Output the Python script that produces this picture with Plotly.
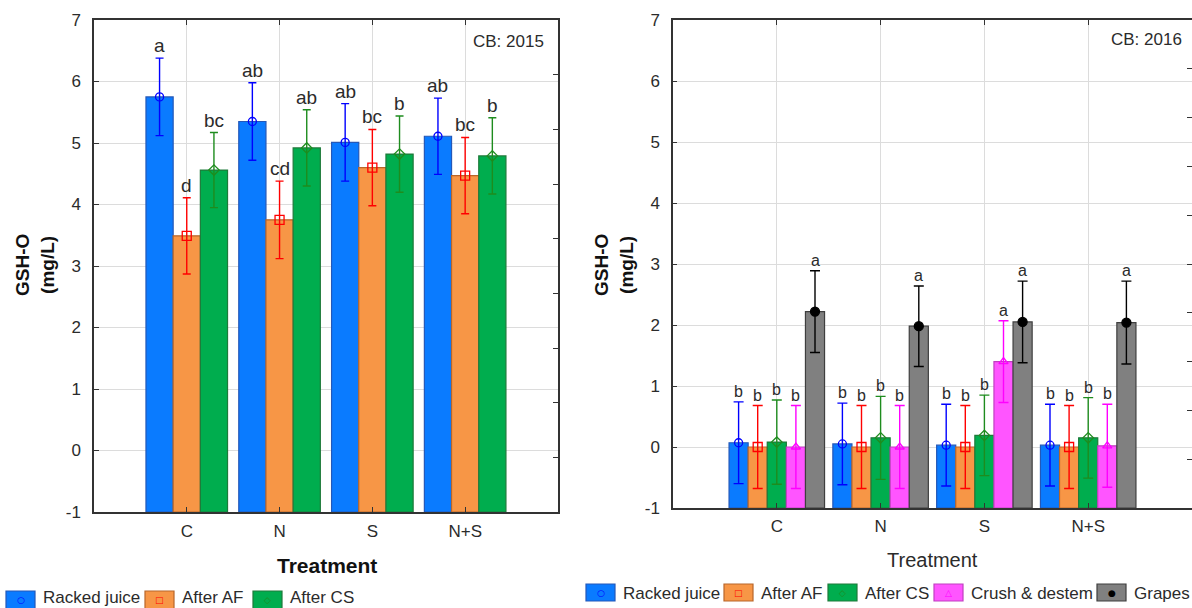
import plotly.graph_objects as go

categories = ["C", "N", "S", "N+S"]
y_ticks = [-1, 0, 1, 2, 3, 4, 5, 6, 7]

# ---- CB: 2015 ----
series_2015 = ["Racked juice", "After AF", "After CS"]
racked_2015 = [5.75, 5.35, 5.01, 5.11]
af_2015 = [3.49, 3.75, 4.60, 4.47]
cs_2015 = [4.56, 4.92, 4.82, 4.79]
racked_2015_err = [0.63, 0.63, 0.63, 0.62]
af_2015_err = [0.62, 0.63, 0.62, 0.62]
cs_2015_err = [0.61, 0.62, 0.62, 0.62]
racked_2015_letters = ["a", "ab", "ab", "ab"]
af_2015_letters = ["d", "cd", "bc", "bc"]
cs_2015_letters = ["bc", "ab", "b", "b"]

# ---- CB: 2016 ----
series_2016 = ["Racked juice", "After AF", "After CS", "Crush & destem", "Grapes"]
racked_2016 = [0.07, 0.05, 0.03, 0.03]
af_2016 = [0.0, 0.0, 0.0, 0.0]
cs_2016 = [0.08, 0.15, 0.19, 0.15]
crush_2016 = [0.0, 0.0, 1.40, 0.02]
grapes_2016 = [2.22, 1.98, 2.05, 2.04]
racked_2016_err = [0.67, 0.67, 0.67, 0.67]
af_2016_err = [0.68, 0.68, 0.68, 0.68]
cs_2016_err = [0.69, 0.68, 0.66, 0.66]
crush_2016_err = [0.68, 0.68, 0.67, 0.68]
grapes_2016_err = [0.67, 0.66, 0.67, 0.68]
racked_2016_letters = ["b", "b", "b", "b"]
af_2016_letters = ["b", "b", "b", "b"]
cs_2016_letters = ["b", "b", "b", "b"]
crush_2016_letters = ["b", "b", "a", "b"]
grapes_2016_letters = ["a", "a", "a", "a"]

FONT = "Liberation Sans, Arial, sans-serif"
TXT = "#2b2b2b"
BASE = y_ticks[0]  # bars are drawn up from the bottom of the axis

styles = {
    "Racked juice": dict(fill="#0A7BFF", line="#2458B8", err="#0000FF", sym="circle-open", msize=8, glyph="○"),
    "After AF": dict(fill="#F79646", line="#B8662A", err="#FF0000", sym="square-open", msize=9, glyph="□"),
    "After CS": dict(fill="#00AD4E", line="#1E7A3A", err="#1E8C1E", sym="diamond-open", msize=8, glyph="◇"),
    "Crush & destem": dict(fill="#FF55FF", line="#C040C0", err="#FF00FF", sym="triangle-up-open", msize=8, glyph="△"),
    "Grapes": dict(fill="#808080", line="#3F3F3F", err="#000000", sym="circle", msize=9, glyph="●"),
}

fig = go.Figure()
annotations = []
shapes = []
idx = list(range(len(categories)))


def add_panel(names, values, errs, letters, xa, ya, width, start, letter_size, cap):
    for k, (name, vals, er, lets) in enumerate(zip(names, values, errs, letters)):
        st = styles[name]
        off = start + k * width
        fig.add_trace(go.Bar(
            x=idx, y=[v - BASE for v in vals], base=BASE, name=name, xaxis=xa, yaxis=ya,
            width=width, offset=off, showlegend=False,
            marker=dict(color=st["fill"], line=dict(color=st["line"], width=1.2)),
            hoverinfo="skip"))
        xs = [i + off + width / 2 for i in idx]
        fig.add_trace(go.Scatter(
            x=xs, y=vals, mode="markers", xaxis=xa, yaxis=ya, showlegend=False,
            marker=dict(symbol=st["sym"], size=st["msize"], color=st["err"],
                        line=dict(color=st["err"], width=1.3)),
            error_y=dict(type="data", array=er, color=st["err"], thickness=1.4, width=cap),
            hoverinfo="skip"))
        for xv, v, e, t in zip(xs, vals, er, lets):
            annotations.append(dict(x=xv, y=v + e, xref=xa, yref=ya.replace("axis", ""),
                                    text=t, showarrow=False, yanchor="bottom",
                                    font=dict(family=FONT, size=letter_size, color=TXT)))


add_panel(series_2015, [racked_2015, af_2015, cs_2015],
          [racked_2015_err, af_2015_err, cs_2015_err],
          [racked_2015_letters, af_2015_letters, cs_2015_letters],
          "x", "y", 0.293, -0.44, 19, 4)
add_panel(series_2016, [racked_2016, af_2016, cs_2016, crush_2016, grapes_2016],
          [racked_2016_err, af_2016_err, cs_2016_err, crush_2016_err, grapes_2016_err],
          [racked_2016_letters, af_2016_letters, cs_2016_letters, crush_2016_letters, grapes_2016_letters],
          "x2", "y2", 0.184, -0.46, 16, 5)

# empty traces so that the right-hand tick axes get drawn
fig.add_trace(go.Scatter(x=[], y=[], xaxis="x", yaxis="y3", showlegend=False, hoverinfo="skip"))
fig.add_trace(go.Scatter(x=[], y=[], xaxis="x2", yaxis="y4", showlegend=False, hoverinfo="skip"))

H = 608.0
W = 1192.0
AX = "#333333"
GRID = "#dcdcdc"


def px(x):
    return x / W


def py(y):
    return 1 - y / H


def xaxis(domain, anchor, size, standoff):
    return dict(domain=domain, anchor=anchor, range=[-1, 4], tickvals=idx, ticktext=categories,
                showgrid=True, gridcolor=GRID, gridwidth=1, zeroline=False, automargin=False,
                showline=True, linecolor=AX, linewidth=1.5, mirror="ticks",
                ticks="inside", ticklen=5, tickcolor=AX, ticklabelstandoff=standoff,
                tickfont=dict(family=FONT, size=size, color=TXT))


def yaxis(domain, anchor, size, mirror, ticklen, standoff):
    return dict(domain=domain, anchor=anchor, range=[y_ticks[0], y_ticks[-1]],
                tickvals=y_ticks, ticktext=[str(t) for t in y_ticks], showgrid=True,
                gridcolor=GRID, gridwidth=1, zeroline=False, showline=True, linecolor=AX,
                linewidth=1.5, mirror=mirror, ticks="inside", ticklen=ticklen, tickcolor=AX,
                ticklabelstandoff=standoff, automargin=False,
                tickfont=dict(family=FONT, size=size, color=TXT))


fig.update_layout(
    width=1192, height=608, autosize=False,
    margin=dict(l=0, r=0, t=0, b=0, pad=0),
    paper_bgcolor="white", plot_bgcolor="white",
    barmode="overlay", showlegend=False,
    font=dict(family=FONT, color=TXT),
    xaxis=xaxis([px(94), px(558)], "y", 17, 3),
    yaxis=yaxis([py(512), py(20)], "x", 17, True, 5, 8),
    xaxis2=xaxis([px(673), 1.0], "y2", 17, 2),
    yaxis2=yaxis([py(508), py(20)], "x2", 17, False, 4, 8),
    yaxis3=dict(overlaying="y", anchor="x", side="right", range=[0, 9], dtick=1,
                showgrid=False, zeroline=False, showline=False, ticks="inside", ticklen=5,
                tickcolor=AX, showticklabels=False, automargin=False),
    yaxis4=dict(overlaying="y2", anchor="x2", side="right", range=[0, 10], dtick=1,
                showgrid=False, zeroline=False, showline=False, ticks="inside", ticklen=5,
                tickcolor=AX, showticklabels=False, automargin=False),
)

annotations += [
    dict(x=px(546), y=py(41), xref="paper", yref="paper", text="CB: 2015", showarrow=False,
         xanchor="right", yanchor="middle", font=dict(family=FONT, size=17, color=TXT)),
    dict(x=px(1184), y=py(39), xref="paper", yref="paper", text="CB: 2016", showarrow=False,
         xanchor="right", yanchor="middle", font=dict(family=FONT, size=17, color=TXT)),
    dict(x=px(327), y=py(565), xref="paper", yref="paper", text="<b>Treatment</b>",
         showarrow=False, xanchor="center", yanchor="middle",
         font=dict(family=FONT, size=21, color="#111111")),
    dict(x=px(932), y=py(560), xref="paper", yref="paper", text="Treatment",
         showarrow=False, xanchor="center", yanchor="middle",
         font=dict(family=FONT, size=20, color=TXT)),
    dict(x=px(35), y=py(265), xref="paper", yref="paper", text="<b>GSH-O<br>(mg/L)</b>",
         showarrow=False, textangle=-90, xanchor="center", yanchor="middle",
         font=dict(family=FONT, size=19, color="#111111")),
    dict(x=px(614), y=py(265), xref="paper", yref="paper", text="<b>GSH-O<br>(mg/L)</b>",
         showarrow=False, textangle=-90, xanchor="center", yanchor="middle",
         font=dict(family=FONT, size=19, color="#111111")),
]


# ---- legends (drawn as boxes with the series marker inside, like the original) ----
def add_legend(names, box_lefts, top, bottom, text_y, size):
    for name, x0 in zip(names, box_lefts):
        st = styles[name]
        x1 = x0 + 29
        shapes.append(dict(type="rect", xref="paper", yref="paper",
                           x0=px(x0), x1=px(x1), y0=py(bottom), y1=py(top),
                           fillcolor=st["fill"], line=dict(color=st["line"], width=1.2)))
        annotations.append(dict(x=px((x0 + x1) / 2), y=py((top + min(bottom, 608)) / 2 + 0.5),
                                xref="paper", yref="paper", text=st["glyph"], showarrow=False,
                                xanchor="center", yanchor="middle",
                                font=dict(family="DejaVu Sans", size=9, color=st["err"])))
        annotations.append(dict(x=px(x1 + 6), y=py(text_y), xref="paper", yref="paper",
                                text=name, showarrow=False, xanchor="left", yanchor="middle",
                                font=dict(family=FONT, size=size, color=TXT)))


add_legend(series_2015, [6, 145, 253], 591, 610, 597.5, 17)
add_legend(series_2016, [586, 724, 828, 934, 1097], 584, 601, 593, 17)

fig.update_layout(annotations=annotations, shapes=shapes)

fig.write_html("out.html", config={"displayModeBar": False},
               post_script="document.body.style.margin='0px';")
